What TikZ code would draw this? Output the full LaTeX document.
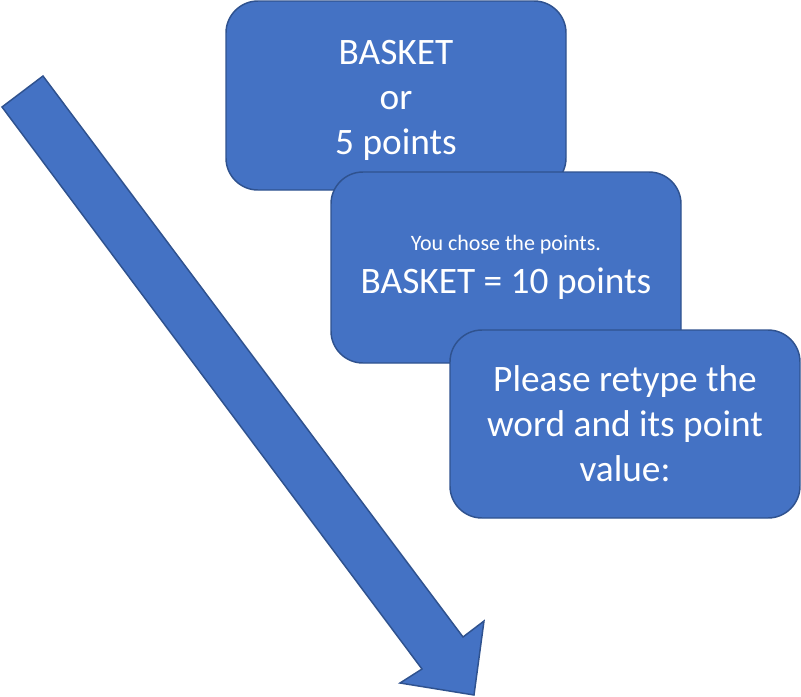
\documentclass[tikz,border=0pt]{standalone}
\usepackage{fontspec}
\setmainfont{Carlito}
\definecolor{boxfill}{HTML}{4472C4}
\definecolor{boxline}{HTML}{2F528F}
\begin{document}
\begin{tikzpicture}[x=0.75pt,y=-0.75pt,
  card/.style={draw=boxline,fill=boxfill,line width=1.1pt,rounded corners=24pt,
    text=white,align=center,inner sep=0pt,font=\fontsize{28}{33.75}\selectfont},
  cardtext/.style={text=white,align=center,inner sep=0pt,font=\fontsize{28}{33.75}\selectfont},
  bigarrow/.style={draw=boxline,fill=boxfill,line width=1.1pt,line join=miter}]
\useasboundingbox (0,0) rectangle (801,697);
\draw[bigarrow] (2,107) -- (43,76) -- (463,637) -- (484,621) -- (474,695) -- (400,683) -- (422,669) -- cycle;
\node[card,minimum width=255pt,minimum height=141.75pt] (b1) at (396,95.5) {};
\node[cardtext] (t1) at ([yshift=-3.5pt]b1.center) {BASKET\\or\\5 points};
\node[card,minimum width=262.5pt,minimum height=143.25pt] (b2) at (506,267.5)
  {{\fontsize{16.5}{20}\selectfont You chose the points.}\\[-1pt]BASKET = 10 points};
\node[card,minimum width=262.5pt,minimum height=141pt] (b3) at (625,424)
  {Please retype the\\word and its point\\value:};
\end{tikzpicture}
\end{document}
